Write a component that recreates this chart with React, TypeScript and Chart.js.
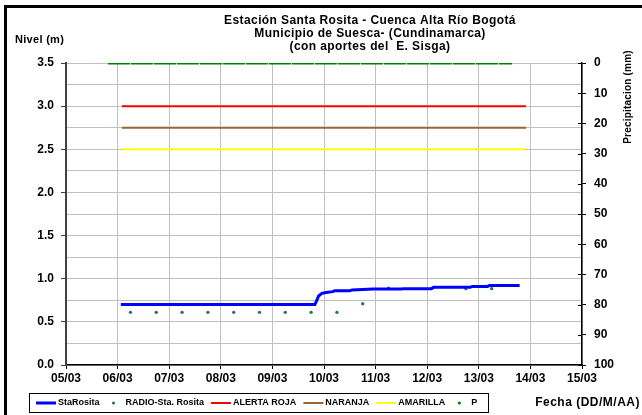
import React, { useEffect, useRef } from "react";
import { Chart, registerables } from "chart.js";

Chart.register(...registerables);

const FONT = "'Liberation Sans', Arial, sans-serif";

const titleLines = [
  "Estación Santa Rosita - Cuenca Alta Río Bogotá",
  "Municipio de Suesca- (Cundinamarca)",
  "(con aportes del  E. Sisga)",
];
const leftAxisTitle = "Nivel (m)";
const rightAxisTitle = "Precipitacion (mm)";
const xAxisTitle = "Fecha (DD/M/AA)";

const xTickLabels = ["05/03", "06/03", "07/03", "08/03", "09/03", "10/03", "11/03", "12/03", "13/03", "14/03", "15/03"];

const staRositaTimes = [
  "06/03 01:30", "09/03 19:45", "09/03 20:30", "09/03 21:30", "09/03 23:00",
  "10/03 01:00", "10/03 04:00", "10/03 05:00", "10/03 12:00", "10/03 13:00",
  "10/03 23:00", "11/03 12:00", "11/03 13:00", "12/03 02:00", "12/03 03:00",
  "12/03 20:00", "12/03 21:00", "13/03 04:00", "13/03 05:00", "13/03 19:00",
];
const staRositaValues = [
  0.70, 0.70, 0.74, 0.80, 0.83,
  0.84, 0.85, 0.86, 0.86, 0.87,
  0.88, 0.88, 0.885, 0.885, 0.90,
  0.90, 0.91, 0.91, 0.92, 0.92,
];

const radioTimes = [
  "06/03 06:00", "06/03 18:00", "07/03 06:00", "07/03 18:00", "08/03 06:00",
  "08/03 18:00", "09/03 06:00", "09/03 18:00", "10/03 06:00", "10/03 18:00",
  "11/03 06:00", "12/03 18:00", "13/03 06:00",
];
const radioValues = [0.61, 0.61, 0.61, 0.61, 0.61, 0.61, 0.61, 0.61, 0.61, 0.71, 0.89, 0.885, 0.885];

const alertTimes = ["06/03 02:00", "13/03 22:00"];
const rojaValues = [3.0, 3.0];
const naranjaValues = [2.75, 2.75];
const amarillaValues = [2.5, 2.5];

const pTimes = [
  "05/03 19:30", "06/03 07:30", "06/03 19:30", "07/03 07:30", "07/03 19:30",
  "08/03 07:30", "08/03 19:30", "09/03 07:30", "09/03 19:30", "10/03 07:30",
  "10/03 19:30", "11/03 07:30", "11/03 19:30", "12/03 07:30", "12/03 19:30",
  "13/03 07:30", "13/03 15:30",
];
const pValues = [0, 0, 0, 0, 0, 0, 0, 0, 0, 0, 0, 0, 0, 0, 0, 0, 0];

// days since 05/03 00:00
function parseT(t: string): number {
  const [d, h] = t.split(" ");
  const day = parseInt(d.split("/")[0], 10);
  const [hh, mm] = h.split(":").map((s) => parseInt(s, 10));
  return day - 5 + hh / 24 + mm / 1440;
}

function pts(times: string[], values: number[]) {
  return times.map((t, i) => ({ x: parseT(t), y: values[i] }));
}

const decorPlugin = {
  id: "decor",
  beforeDraw(chart: any) {
    const ctx = chart.ctx;
    ctx.save();
    ctx.fillStyle = "#ffffff";
    ctx.fillRect(0, 0, chart.width, chart.height);
    ctx.restore();
  },
  afterDraw(chart: any) {
    const ctx = chart.ctx;
    ctx.save();
    // outer frame
    ctx.strokeStyle = "#000000";
    ctx.lineWidth = 3;
    ctx.strokeRect(5.5, 6.5, chart.width + 20, chart.height + 20);

    // right axis crossing ticks (inner half)
    const y2 = chart.scales.y2;
    ctx.strokeStyle = "#000000";
    ctx.lineWidth = 1;
    y2.ticks.forEach((t: any) => {
      const py = Math.round(y2.getPixelForValue(t.value)) + 0.5;
      ctx.beginPath();
      ctx.moveTo(y2.left - 4, py);
      ctx.lineTo(y2.left, py);
      ctx.stroke();
    });

    ctx.fillStyle = "#000000";
    ctx.textBaseline = "middle";
    // title
    ctx.font = `bold 12px ${FONT}`;
    ctx.letterSpacing = "0.4px";
    ctx.textAlign = "center";
    const ty = [21, 34, 47];
    titleLines.forEach((l, i) => ctx.fillText(l, 370, ty[i]));
    // left axis title
    ctx.font = `bold 11px ${FONT}`;
    ctx.letterSpacing = "0.3px";
    ctx.textAlign = "left";
    ctx.fillText(leftAxisTitle, 15, 40);
    // x axis title
    ctx.font = `bold 12px ${FONT}`;
    ctx.letterSpacing = "0.5px";
    ctx.textAlign = "right";
    ctx.fillText(xAxisTitle, 640, 403);
    // right axis title
    ctx.save();
    ctx.translate(628, 97);
    ctx.rotate(-Math.PI / 2);
    ctx.font = `bold 10px ${FONT}`;
    ctx.letterSpacing = "0.2px";
    ctx.textAlign = "center";
    ctx.fillText(rightAxisTitle, 0, 0);
    ctx.restore();
    ctx.letterSpacing = "0px";

    // legend
    const boxL = 29, boxT = 393, boxR = 488, boxB = 412;
    ctx.fillStyle = "#ffffff";
    ctx.fillRect(boxL, boxT, boxR - boxL, boxB - boxT);
    ctx.strokeStyle = "#000000";
    ctx.lineWidth = 1;
    ctx.strokeRect(boxL + 0.5, boxT + 0.5, boxR - boxL, boxB - boxT);
    ctx.font = `bold 9px ${FONT}`;
    ctx.textAlign = "left";
    const cy = (boxT + boxB) / 2 + 0.5;
    let x = 36;
    chart.data.datasets.forEach((ds: any) => {
      if (ds.legendSymbol === "dot") {
        ctx.fillStyle = ds.pointBackgroundColor;
        ctx.beginPath();
        ctx.arc(x + 7, cy, 1.6, 0, Math.PI * 2);
        ctx.fill();
        x += 19;
      } else {
        ctx.strokeStyle = ds.borderColor;
        ctx.lineWidth = ds.borderWidth;
        ctx.setLineDash([]);
        ctx.beginPath();
        ctx.moveTo(x, cy);
        ctx.lineTo(x + 20, cy);
        ctx.stroke();
        x += 22;
      }
      ctx.fillStyle = "#000000";
      ctx.fillText(ds.label, x, cy);
      x += ctx.measureText(ds.label).width + 7;
    });
    ctx.restore();
  },
};

export default function App() {
  const ref = useRef<HTMLCanvasElement | null>(null);

  useEffect(() => {
    if (!ref.current) return;
    Chart.defaults.font.family = FONT;
    const tickFont = { family: FONT, size: 12, weight: "bold" as const };
    const chart = new Chart(ref.current, {
      type: "line",
      data: {
        datasets: [
          {
            label: "StaRosita",
            data: pts(staRositaTimes, staRositaValues),
            borderColor: "#0000ff",
            backgroundColor: "#0000ff",
            borderWidth: 3,
            pointRadius: 0,
            tension: 0,
            yAxisID: "y",
          },
          {
            label: "RADIO-Sta. Rosita",
            data: pts(radioTimes, radioValues),
            showLine: false,
            borderColor: "#336b6b",
            backgroundColor: "#336b6b",
            pointBackgroundColor: "#336b6b",
            pointBorderWidth: 0,
            pointRadius: 1.7,
            yAxisID: "y",
            legendSymbol: "dot",
          } as any,
          {
            label: "ALERTA ROJA",
            data: pts(alertTimes, rojaValues),
            borderColor: "#ff0000",
            borderWidth: 2,
            pointRadius: 0,
            yAxisID: "y",
          },
          {
            label: "NARANJA",
            data: pts(alertTimes, naranjaValues),
            borderColor: "#996633",
            borderWidth: 2,
            pointRadius: 0,
            yAxisID: "y",
          },
          {
            label: "AMARILLA",
            data: pts(alertTimes, amarillaValues),
            borderColor: "#ffff00",
            borderWidth: 2,
            pointRadius: 0,
            yAxisID: "y",
          },
          {
            label: "P",
            data: pts(pTimes, pValues),
            borderColor: "#008000",
            backgroundColor: "#008000",
            pointBackgroundColor: "#008000",
            borderWidth: 3,
            borderDash: [22, 1],
            pointRadius: 0,
            yAxisID: "y2",
            legendSymbol: "dot",
          } as any,
        ],
      },
      options: {
        animation: false,
        responsive: false,
        layout: { padding: { top: 63, left: 0, right: 0, bottom: 0 } },
        plugins: {
          legend: { display: false },
          tooltip: { enabled: false },
          title: { display: false },
        },
        scales: {
          x: {
            type: "linear",
            min: 0,
            max: 10,
            ticks: {
              stepSize: 1,
              color: "#000000",
              font: tickFont,
              padding: 2,
              callback: (v: any) => xTickLabels[Math.round(Number(v))] ?? "",
            },
            grid: { color: "#c0c0c0", lineWidth: 1, tickLength: 4, tickColor: "#000000" },
            border: { color: "#000000", width: 1.5 },
            afterFit: (s: any) => { s.height = 50; },
          },
          y: {
            type: "linear",
            position: "left",
            min: 0,
            max: 3.5,
            ticks: {
              stepSize: 0.25,
              autoSkip: false,
              color: "#000000",
              font: tickFont,
              padding: 7,
              callback: (v: any) => (Math.round(Number(v) * 100) % 50 === 0 ? Number(v).toFixed(1) : ""),
            },
            grid: {
              color: "#c0c0c0",
              lineWidth: 1,
              tickLength: 5,
              tickColor: (ctx: any) =>
                ctx.tick && Math.round(ctx.tick.value * 100) % 50 === 0 ? "#404040" : "rgba(0,0,0,0)",
            },
            border: { color: "#404040", width: 2 },
            afterFit: (s: any) => { s.width = 66; },
          },
          y2: {
            type: "linear",
            position: "right",
            min: 0,
            max: 100,
            reverse: true,
            ticks: { stepSize: 10, color: "#000000", font: tickFont, padding: 8 },
            grid: { drawOnChartArea: false, tickLength: 4, tickColor: "#000000" },
            border: { color: "#000000", width: 1.5 },
            afterFit: (s: any) => { s.width = 60; },
          },
        },
      },
      plugins: [decorPlugin],
    });
    return () => chart.destroy();
  }, []);

  return (
    <div style={{ position: "absolute", left: 0, top: 0, width: 642, height: 415 }}>
      <canvas ref={ref} width={642} height={415} style={{ display: "block" }} />
    </div>
  );
}
